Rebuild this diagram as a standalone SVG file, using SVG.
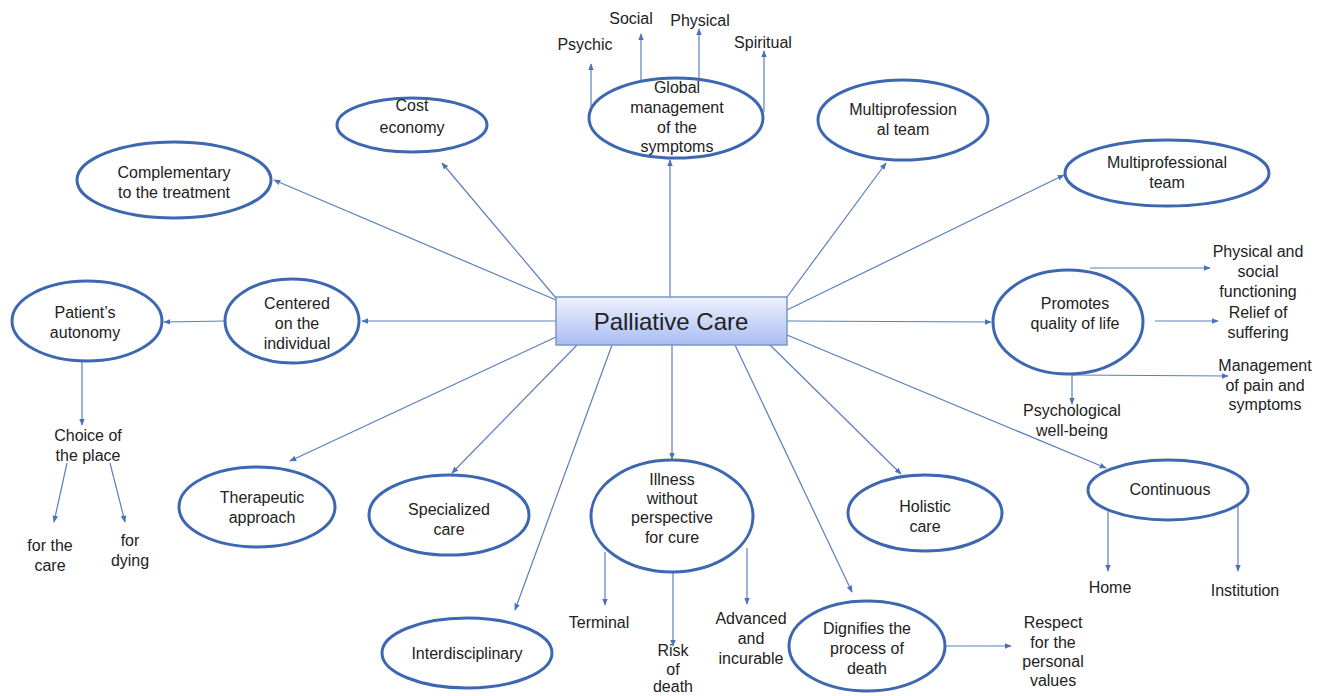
<svg xmlns="http://www.w3.org/2000/svg" width="1327" height="696" viewBox="0 0 1327 696">
<defs>
<linearGradient id="g" x1="0" y1="0" x2="0" y2="1">
<stop offset="0" stop-color="#eef2fd"/>
<stop offset="1" stop-color="#a9bdf4"/>
</linearGradient>
<marker id="a" viewBox="0 0 10 10" refX="9" refY="5" markerWidth="7" markerHeight="7" orient="auto" markerUnits="userSpaceOnUse">
<path d="M0,1 L10,5 L0,9 z" fill="#4a72b8"/>
</marker>
</defs>
<style>
.e{fill:#fff;stroke:#3d67b0;stroke-width:3}
.c line{stroke:#5a7fbe;stroke-width:1.2;marker-end:url(#a)}
text{font-family:"Liberation Sans",Arial,sans-serif;font-size:16px;fill:#222;text-anchor:middle}
</style>
<rect width="1327" height="696" fill="#fff"/>
<g class="c" id="connectors">
<line x1="556" y1="298" x2="442" y2="163"/>
<line x1="556" y1="300" x2="274" y2="180"/>
<line x1="670" y1="297" x2="670" y2="160"/>
<line x1="787" y1="297" x2="886" y2="163"/>
<line x1="787" y1="310" x2="1064" y2="175"/>
<line x1="787" y1="321" x2="991" y2="322"/>
<line x1="787" y1="335" x2="1106" y2="468"/>
<line x1="770" y1="345" x2="901" y2="474"/>
<line x1="735" y1="345" x2="852" y2="592"/>
<line x1="672" y1="345" x2="672" y2="459"/>
<line x1="612" y1="345" x2="515" y2="610"/>
<line x1="577" y1="345" x2="452" y2="473"/>
<line x1="556" y1="337" x2="290" y2="461"/>
<line x1="556" y1="321" x2="362" y2="321"/>
<line x1="225" y1="321" x2="164" y2="322"/>
<line x1="82" y1="361" x2="82" y2="425"/>
<line x1="67" y1="463" x2="54" y2="522"/>
<line x1="110" y1="463" x2="125" y2="522"/>
<line x1="591" y1="106" x2="591" y2="64"/>
<line x1="641" y1="80" x2="641" y2="34"/>
<line x1="699" y1="78" x2="699" y2="29"/>
<line x1="764" y1="112" x2="764" y2="51"/>
<line x1="1090" y1="268" x2="1210" y2="268"/>
<line x1="1155" y1="321" x2="1218" y2="321"/>
<line x1="1072" y1="375" x2="1228" y2="376"/>
<line x1="1072" y1="375" x2="1072" y2="404"/>
<line x1="1108" y1="508" x2="1108" y2="571"/>
<line x1="1238" y1="505" x2="1238" y2="571"/>
<line x1="605" y1="552" x2="605" y2="605"/>
<line x1="673" y1="572" x2="673" y2="646"/>
<line x1="747" y1="548" x2="747" y2="604"/>
<line x1="945" y1="646" x2="1011" y2="646"/>
</g>
<g id="center">
<rect x="556" y="297" width="231" height="48" fill="url(#g)" stroke="#7f95c4" stroke-width="1.5"/>
<text x="671" y="330" style="font-size:24px" fill="#111">Palliative Care</text>
</g>
<g id="cost"><ellipse class="e" cx="412" cy="125" rx="75" ry="27"/><text x="412" y="111">Cost</text><text x="412" y="133">economy</text></g>
<g id="global"><ellipse class="e" cx="676" cy="118" rx="87" ry="40"/><text x="677" y="93">Global</text><text x="677" y="113">management</text><text x="677" y="133">of the</text><text x="677" y="152">symptoms</text></g>
<g id="multi1"><ellipse class="e" cx="903" cy="120" rx="85" ry="40"/><text x="903" y="115">Multiprofession</text><text x="903" y="135">al team</text></g>
<g id="multi2"><ellipse class="e" cx="1167" cy="173" rx="102" ry="33"/><text x="1167" y="168">Multiprofessional</text><text x="1167" y="188">team</text></g>
<g id="compl"><ellipse class="e" cx="174" cy="180" rx="97" ry="38"/><text x="174" y="178">Complementary</text><text x="174" y="198">to the treatment</text></g>
<g id="patient"><ellipse class="e" cx="87" cy="321" rx="75" ry="40"/><text x="85" y="318">Patient’s</text><text x="85" y="338">autonomy</text></g>
<g id="centered"><ellipse class="e" cx="292" cy="321" rx="67" ry="42"/><text x="297" y="309">Centered</text><text x="297" y="329">on the</text><text x="297" y="349">individual</text></g>
<g id="promotes"><ellipse class="e" cx="1068" cy="322" rx="75" ry="52"/><text x="1075" y="309">Promotes</text><text x="1075" y="329">quality of life</text></g>
<g id="therap"><ellipse class="e" cx="257" cy="507" rx="78" ry="40"/><text x="262" y="503">Therapeutic</text><text x="262" y="523">approach</text></g>
<g id="special"><ellipse class="e" cx="449" cy="515" rx="80" ry="40"/><text x="449" y="515">Specialized</text><text x="449" y="535">care</text></g>
<g id="illness"><ellipse class="e" cx="672" cy="516" rx="81" ry="56"/><text x="672" y="485">Illness</text><text x="672" y="504">without</text><text x="672" y="523">perspective</text><text x="672" y="543">for cure</text></g>
<g id="holistic"><ellipse class="e" cx="925" cy="513" rx="77" ry="38"/><text x="925" y="512">Holistic</text><text x="925" y="532">care</text></g>
<g id="continuous"><ellipse class="e" cx="1168" cy="490" rx="80" ry="30"/><text x="1170" y="495">Continuous</text></g>
<g id="interdisc"><ellipse class="e" cx="467" cy="653" rx="85" ry="35"/><text x="467" y="659">Interdisciplinary</text></g>
<g id="dignifies"><ellipse class="e" cx="867" cy="646" rx="78" ry="45"/><text x="867" y="634">Dignifies the</text><text x="867" y="654">process of</text><text x="867" y="674">death</text></g>
<g id="labels">
<text x="585" y="50">Psychic</text>
<text x="631" y="24">Social</text>
<text x="700" y="26">Physical</text>
<text x="763" y="48">Spiritual</text>
<text x="1258" y="257">Physical and</text><text x="1258" y="277">social</text><text x="1258" y="297">functioning</text>
<text x="1258" y="318">Relief of</text><text x="1258" y="338">suffering</text>
<text x="1265" y="371">Management</text><text x="1265" y="391">of pain and</text><text x="1265" y="410">symptoms</text>
<text x="1072" y="416">Psychological</text><text x="1072" y="436">well-being</text>
<text x="1110" y="593">Home</text>
<text x="1245" y="596">Institution</text>
<text x="88" y="441">Choice of</text><text x="88" y="461">the place</text>
<text x="50" y="551">for the</text><text x="50" y="571">care</text>
<text x="130" y="546">for</text><text x="130" y="566">dying</text>
<text x="599" y="628">Terminal</text>
<text x="673" y="656">Risk</text><text x="673" y="675">of</text><text x="673" y="692">death</text>
<text x="751" y="624">Advanced</text><text x="751" y="644">and</text><text x="751" y="664">incurable</text>
<text x="1053" y="628">Respect</text><text x="1053" y="648">for the</text><text x="1053" y="667">personal</text><text x="1053" y="686">values</text>
</g>
</svg>
